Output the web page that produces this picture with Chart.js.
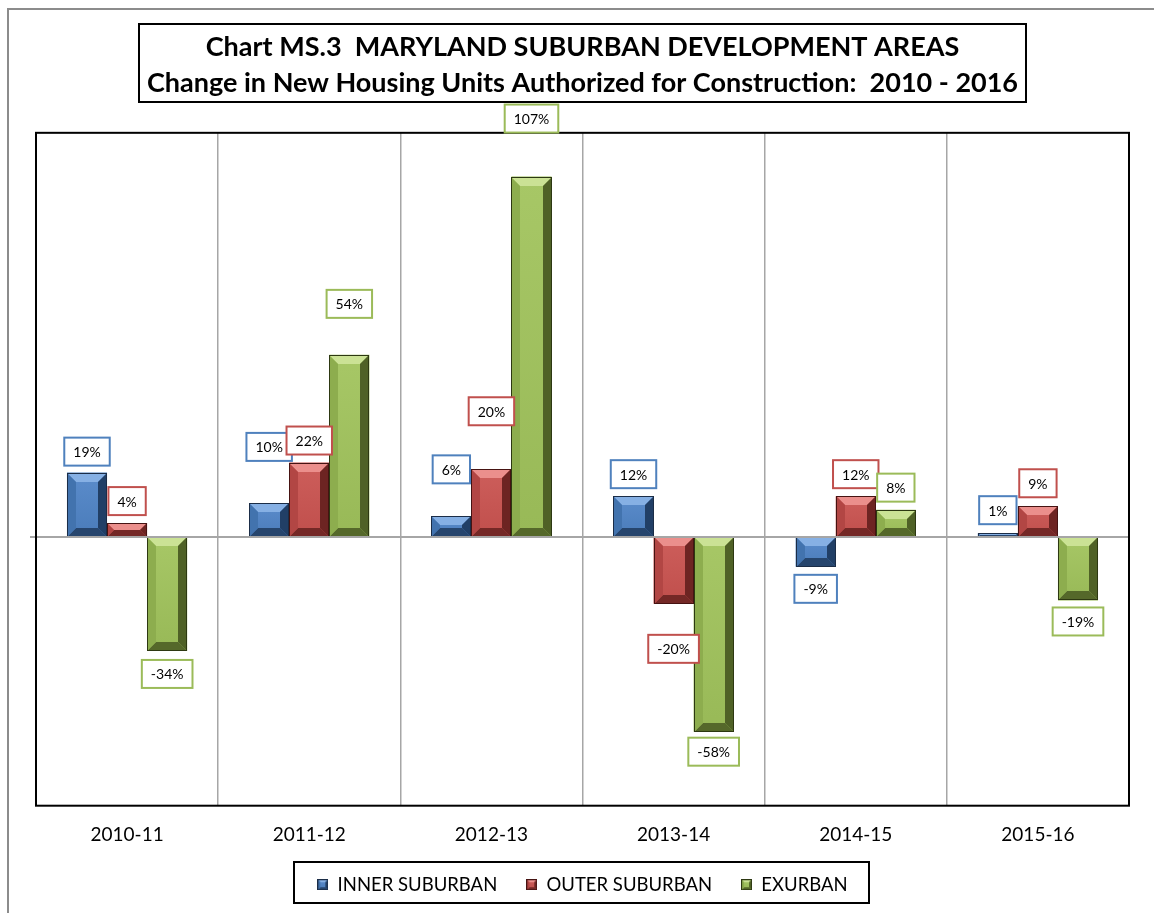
<!DOCTYPE html>
<html>
<head>
<meta charset="utf-8">
<script src="https://cdn.jsdelivr.net/npm/chart.js@4/dist/chart.umd.min.js"></script>
<style>
  body { margin: 0; background: #fff; }
  canvas { display: block; }
</style>
</head>
<body>
<canvas id="chart" width="1154" height="913"></canvas>
<script>
// chart data
const categories = ["2010-11", "2011-12", "2012-13", "2013-14", "2014-15", "2015-16"];
const innerSuburban = [19, 10, 6, 12, -9, 1];
const outerSuburban = [4, 22, 20, -20, 12, 9];
const exurban = [-34, 54, 107, -58, 8, -19];
const seriesNames = ["INNER SUBURBAN", "OUTER SUBURBAN", "EXURBAN"];
const titleLines = [
    "Chart MS.3  MARYLAND SUBURBAN DEVELOPMENT AREAS",
    "Change in New Housing Units Authorized for Construction:  2010 - 2016"
];

// distance (px) from bar end to the value label centre, as placed in the original
const labelGaps = [
    [21, 56, 47, 22, 22, 23],
    [22, 22, 58, 45, 22, 23],
    [23, 51, 58, 20, 22, 21]
];

const palettes = [
    { face: "#4a7cba", faceTop: "#5b8ccb", top: "#86b0e4", left: "#4273ae", right: "#213f66", bottom: "#26456d", edge: "#1b2d47", line: "#4f81bd" },
    { face: "#c04f4c", faceTop: "#cd5e5b", top: "#eb8f8c", left: "#b24644", right: "#6d2422", bottom: "#742826", edge: "#461312", line: "#c0504d" },
    { face: "#98b957", faceTop: "#a7c766", top: "#cbe295", left: "#8dad4e", right: "#4f6126", bottom: "#55682a", edge: "#2d3812", line: "#9bbb59" }
];

const FONT = "Lato";

function poly(ctx, pts, color) {
    ctx.beginPath();
    ctx.moveTo(pts[0][0], pts[0][1]);
    for (let i = 1; i < pts.length; i++) ctx.lineTo(pts[i][0], pts[i][1]);
    ctx.closePath();
    ctx.fillStyle = color;
    ctx.fill();
}

function drawBevel(ctx, left, top, right, bottom, pal, depth) {
    const w = right - left, h = bottom - top;
    if (h <= 0 || w <= 0) return;
    const d = Math.min(depth, h / 2, w / 2);
    let g = ctx.createLinearGradient(0, top, 0, bottom);
    g.addColorStop(0, pal.faceTop);
    g.addColorStop(1, pal.face);
    ctx.fillStyle = g;
    ctx.fillRect(left, top, w, h);
    poly(ctx, [[left, top], [right, top], [right - d, top + d], [left + d, top + d]], pal.top);
    poly(ctx, [[left, bottom], [right, bottom], [right - d, bottom - d], [left + d, bottom - d]], pal.bottom);
    poly(ctx, [[left, top], [left + d, top + d], [left + d, bottom - d], [left, bottom]], pal.left);
    poly(ctx, [[right, top], [right - d, top + d], [right - d, bottom - d], [right, bottom]], pal.right);
    ctx.strokeStyle = pal.edge;
    ctx.lineWidth = 1;
    ctx.strokeRect(left + 0.5, top + 0.5, w - 1, h - 1);
}

// small bevelled squares for the legend
function legendIcon(pal) {
    const c = document.createElement("canvas");
    c.width = 11; c.height = 11;
    drawBevel(c.getContext("2d"), 0, 0, 11, 11, pal, 3);
    return c;
}

/* -------------------------------
   PLUGINS
---------------------------------*/

const framePlugin = {
    id: "frame",
    beforeDraw(chart) {
        const ctx = chart.ctx;
        ctx.save();
        ctx.fillStyle = "#fff";
        ctx.fillRect(0, 0, chart.width, chart.height);
        ctx.strokeStyle = "#8c8c8c";
        ctx.lineWidth = 2;
        ctx.beginPath();
        ctx.moveTo(8, chart.height);
        ctx.lineTo(8, 9);
        ctx.lineTo(chart.width, 9);
        ctx.stroke();
        ctx.restore();
    }
};

const bevelPlugin = {
    id: "bevel",
    afterDatasetsDraw(chart) {
        const ctx = chart.ctx;
        const a = chart.chartArea;
        ctx.save();
        chart.data.datasets.forEach((ds, i) => {
            const meta = chart.getDatasetMeta(i);
            meta.data.forEach(bar => {
                const p = bar.getProps(["x", "y", "base", "width"], true);
                const left = Math.round(p.x - p.width / 2), right = Math.round(p.x + p.width / 2);
                const top = Math.round(Math.min(p.y, p.base)), bottom = Math.round(Math.max(p.y, p.base));
                drawBevel(ctx, left, top, right, bottom, palettes[i], 9);
            });
        });
        // zero line
        const y0 = Math.round(chart.scales.y.getPixelForValue(0));
        ctx.strokeStyle = "#a6a6a6";
        ctx.lineWidth = 2;
        ctx.beginPath();
        ctx.moveTo(a.left - 6, y0);
        ctx.lineTo(a.right, y0);
        ctx.stroke();
        // plot border
        ctx.strokeStyle = "#000";
        ctx.lineWidth = 2;
        ctx.strokeRect(a.left, a.top, a.right - a.left, a.bottom - a.top);
        ctx.restore();
    }
};

const labelPlugin = {
    id: "valueLabels",
    afterDraw(chart) {
        const ctx = chart.ctx;
        ctx.save();
        ctx.font = "14px " + FONT;
        ctx.textAlign = "center";
        ctx.textBaseline = "middle";
        chart.data.datasets.forEach((ds, i) => {
            const meta = chart.getDatasetMeta(i);
            meta.data.forEach((bar, j) => {
                const v = ds.data[j];
                const txt = v + "%";
                const gap = labelGaps[i][j];
                const cy = v >= 0 ? bar.y - gap : bar.y + gap;
                const cx = bar.x;
                const w = ctx.measureText(txt).width + 18;
                const h = 28;
                ctx.fillStyle = "#fff";
                ctx.fillRect(cx - w / 2, cy - h / 2, w, h);
                ctx.strokeStyle = palettes[i].line;
                ctx.lineWidth = 2;
                ctx.strokeRect(cx - w / 2, cy - h / 2, w, h);
                ctx.fillStyle = "#000";
                ctx.fillText(txt, cx, cy + 1);
            });
        });
        ctx.restore();
    }
};

const boxPlugin = {
    id: "boxes",
    afterDraw(chart) {
        const ctx = chart.ctx;
        ctx.save();
        ctx.strokeStyle = "#000";
        ctx.lineWidth = 2;
        // title box
        const t = chart.titleBlock;
        const tf = t.options.font;
        ctx.font = "bold " + tf.size + "px " + tf.family;
        const maxW = Math.max(...titleLines.map(s => ctx.measureText(s).width));
        const cx = (t.left + t.right) / 2;
        const lh = tf.size * tf.lineHeight;
        const firstMid = t.top + t.options.padding.top + lh / 2;
        const lastMid = firstMid + lh;
        ctx.strokeRect(Math.round(cx - maxW / 2 - 8), Math.round(firstMid - 23), Math.round(maxW + 16), Math.round(lastMid - firstMid + 42));
        // legend box
        const hb = chart.legend.legendHitBoxes;
        if (hb && hb.length) {
            const minX = Math.min(...hb.map(b => b.left));
            const maxX = Math.max(...hb.map(b => b.left + b.width));
            const top = hb[0].top, bot = hb[0].top + hb[0].height;
            ctx.strokeRect(Math.round(minX - 23), Math.round(top - 14), Math.round(maxX - minX + 45), Math.round(bot - top + 22));
        }
        ctx.restore();
    }
};

/* -------------------------------
   CHART
---------------------------------*/

const series = [innerSuburban, outerSuburban, exurban];

new Chart(document.getElementById("chart"), {
    type: "bar",
    data: {
        labels: categories,
        datasets: series.map((vals, i) => ({
            label: seriesNames[i],
            data: vals,
            backgroundColor: palettes[i].face,
            borderWidth: 0,
            categoryPercentage: 0.66,
            barPercentage: 1.0,
            pointStyle: legendIcon(palettes[i])
        }))
    },
    options: {
        responsive: false,
        devicePixelRatio: 1,
        animation: false,
        layout: { padding: { left: 36, right: 25, top: 0, bottom: 9 } },
        scales: {
            x: {
                grid: { offset: true, color: "#a6a6a6", lineWidth: 1.5, drawTicks: false },
                border: { display: false },
                ticks: { color: "#000", font: { family: FONT, size: 19 }, padding: 18 },
                afterFit(scale) { scale.height -= 18; }
            },
            y: {
                display: false,
                min: -80,
                max: 120
            }
        },
        plugins: {
            title: {
                display: true,
                text: titleLines,
                color: "#000",
                font: { family: FONT, size: 27, weight: "bold", lineHeight: 1.33 },
                padding: { top: 29, bottom: 32 }
            },
            legend: {
                position: "bottom",
                labels: {
                    usePointStyle: true,
                    boxWidth: 11,
                    boxHeight: 11,
                    color: "#000",
                    font: { family: FONT, size: 18.5 },
                    padding: 29
                }
            },
            tooltip: { enabled: false }
        }
    },
    plugins: [framePlugin, bevelPlugin, labelPlugin, boxPlugin]
});
</script>
</body>
</html>
